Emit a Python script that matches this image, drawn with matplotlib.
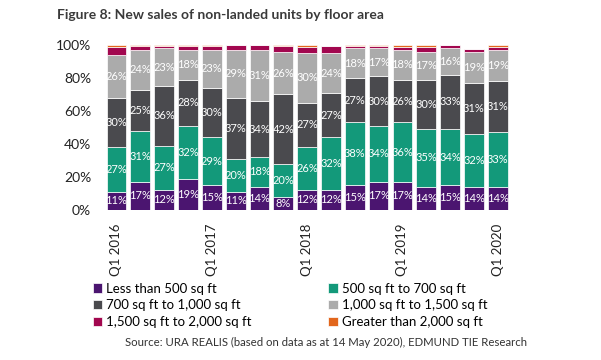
import matplotlib.pyplot as plt
import numpy as np

plt.rcParams['font.family'] = ['Lato', 'DejaVu Sans']

quarters = ["Q1 2016", "Q2 2016", "Q3 2016", "Q4 2016",
            "Q1 2017", "Q2 2017", "Q3 2017", "Q4 2017",
            "Q1 2018", "Q2 2018", "Q3 2018", "Q4 2018",
            "Q1 2019", "Q2 2019", "Q3 2019", "Q4 2019",
            "Q1 2020"]

lt500 = [11, 17, 12, 19, 15, 11, 14, 8, 12, 12, 15, 17, 17, 14, 15, 14, 14]
s500_700 = [27, 31, 27, 32, 29, 20, 18, 20, 26, 32, 38, 34, 36, 35, 34, 32, 33]
s700_1000 = [30, 25, 36, 28, 30, 37, 34, 42, 27, 27, 27, 30, 26, 30, 33, 31, 31]
s1000_1500 = [26, 24, 23, 18, 23, 29, 31, 26, 30, 24, 18, 17, 18, 17, 16, 19, 19]
s1500_2000 = [4.5, 2.5, 1.5, 2.5, 2.5, 3, 3, 3.5, 3.5, 4.5, 1.5, 1.5, 2, 2.5, 2, 1.5, 2]
gt2000 = [1.5, 0.5, 0.5, 0.5, 0.3, 0, 0, 0.3, 1.5, 0, 0.3, 0.3, 1, 1.5, 0.3, 0, 1]

series = [lt500, s500_700, s700_1000, s1000_1500, s1500_2000, gt2000]
names = ["Less than 500 sq ft", "500 sq ft to 700 sq ft",
         "700 sq ft to 1,000 sq ft", "1,000 sq ft to 1,500 sq ft",
         "1,500 sq ft to 2,000 sq ft", "Greater than 2,000 sq ft"]
colors = ["#4b1570", "#13997a", "#4a4a4e", "#ababab", "#a2074f", "#e2661c"]
labelled = [True, True, True, True, False, False]

fig = plt.figure(figsize=(6.01, 3.6), dpi=100)
ax = fig.add_axes([0.170, 0.417, 0.682, 0.458])

x = np.arange(len(quarters))
bottom = np.zeros(len(quarters))
handles = []
for vals, name, col, lab in zip(series, names, colors, labelled):
    vals = np.array(vals, dtype=float)
    b = ax.bar(x, vals, 0.83, bottom=bottom, color=col, edgecolor="white",
               linewidth=0.5, label=name)
    handles.append(b)
    if lab:
        for xi, v, bt in zip(x, vals, bottom):
            ax.text(xi, bt + v / 2, "%d%%" % v, ha="center", va="center",
                    color="white", fontsize=8)
    bottom += vals

ax.set_xlim(-0.6, len(quarters) - 0.4)
ax.set_ylim(0, 100)
ax.set_yticks(range(0, 101, 20))
ax.set_yticklabels(["%d%%" % t for t in range(0, 101, 20)], fontsize=10, color="#222222")
ax.set_xticks(x[::4])
ax.set_xticklabels(quarters[::4], rotation=90, fontsize=9.5, color="#222222")
ax.tick_params(length=0)
ax.tick_params(axis="y", pad=8)
ax.tick_params(axis="x", pad=10)
for s in ax.spines.values():
    s.set_visible(False)

order = [0, 2, 4, 1, 3, 5]
fig.legend([handles[i] for i in order], [names[i] for i in order],
           ncol=2, loc="upper left", bbox_to_anchor=(0.155, 0.215),
           frameon=False, fontsize=9.5, handlelength=0.7, handleheight=0.7,
           handletextpad=0.3, columnspacing=5.8, labelspacing=0.35,
           borderaxespad=0, borderpad=0)

fig.text(0.095, 0.958, "Figure 8: New sales of non-landed units by floor area",
         fontsize=10, fontweight="bold", color="#3a3a3a", va="center")
fig.text(0.543, 0.05, "Source: URA REALIS (based on data as at 14 May 2020), EDMUND TIE Research",
         fontsize=8.2, color="#333333", ha="center", va="center")

fig.savefig("out.png", dpi=100)
